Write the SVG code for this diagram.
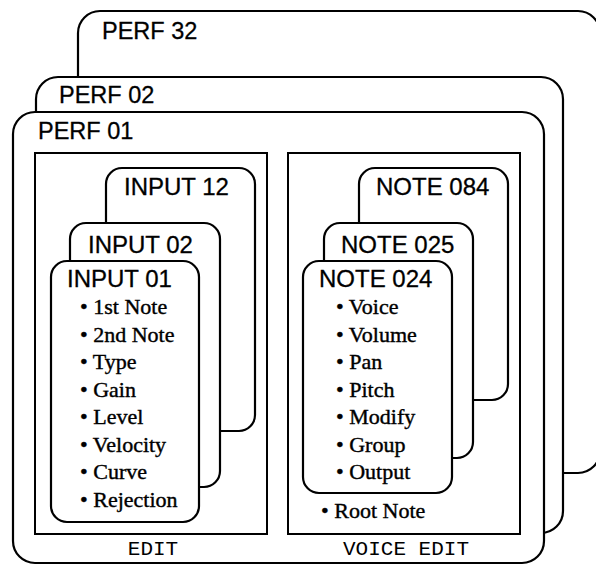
<svg xmlns="http://www.w3.org/2000/svg" width="596" height="566" viewBox="0 0 596 566">
<style>
.box{fill:#fff;stroke:#000;stroke-width:2.2}
.sq{fill:#fff;stroke:#000;stroke-width:2}
.h{font-family:"Liberation Sans",Arial,sans-serif;font-size:23.5px;fill:#000;stroke:#000;stroke-width:0.3}
.hi{font-family:"Liberation Sans",Arial,sans-serif;font-size:24px;fill:#000;stroke:#000;stroke-width:0.3}
.it{font-family:"Liberation Serif","Times New Roman",serif;font-size:22px;fill:#000;stroke:#000;stroke-width:0.4}
.m{font-family:"Liberation Mono","Courier New",monospace;font-size:21px;fill:#000;text-anchor:middle}
</style>
<rect width="596" height="566" fill="#fff"/>
<g id="perf32"><rect class="box" x="78" y="11" width="522" height="462" rx="22"/><text class="h" x="102" y="39">PERF 32</text></g>
<g id="perf02"><rect class="box" x="36" y="77" width="527" height="456" rx="22"/><text class="h" x="59" y="103">PERF 02</text></g>
<g id="perf01"><rect class="box" x="13" y="112" width="531" height="451" rx="22"/><text class="h" x="38" y="139">PERF 01</text></g>
<g id="edit"><rect class="sq" x="35" y="153" width="232" height="381"/><text class="m" x="153" y="555">EDIT</text></g>
<g id="voiceedit"><rect class="sq" x="288" y="153" width="232" height="381"/><text class="m" x="406" y="555">VOICE EDIT</text></g>
<g id="input12"><rect class="box" x="106" y="168" width="149" height="263" rx="16"/><text class="hi" x="124" y="195">INPUT 12</text></g>
<g id="input02"><rect class="box" x="70" y="223" width="150" height="264" rx="16"/><text class="hi" x="88" y="253">INPUT 02</text></g>
<g id="input01"><rect class="box" x="51" y="261" width="148" height="261" rx="16"/><text class="hi" x="67" y="287">INPUT 01</text>
<text class="it" x="80" y="314">• 1st Note</text>
<text class="it" x="80" y="341.5">• 2nd Note</text>
<text class="it" x="80" y="369">• Type</text>
<text class="it" x="80" y="396.5">• Gain</text>
<text class="it" x="80" y="424">• Level</text>
<text class="it" x="80" y="451.5">• Velocity</text>
<text class="it" x="80" y="479">• Curve</text>
<text class="it" x="80" y="506.5">• Rejection</text>
</g>
<g id="note084"><rect class="box" x="359" y="168" width="149" height="232" rx="16"/><text class="hi" x="376" y="195">NOTE 084</text></g>
<g id="note025"><rect class="box" x="324" y="223" width="149" height="235" rx="16"/><text class="hi" x="341" y="253">NOTE 025</text></g>
<g id="note024"><rect class="box" x="303" y="261" width="149" height="232" rx="16"/><text class="hi" x="319" y="287">NOTE 024</text>
<text class="it" x="336" y="314">• Voice</text>
<text class="it" x="336" y="341.5">• Volume</text>
<text class="it" x="336" y="369">• Pan</text>
<text class="it" x="336" y="396.5">• Pitch</text>
<text class="it" x="336" y="424">• Modify</text>
<text class="it" x="336" y="451.5">• Group</text>
<text class="it" x="336" y="479">• Output</text>
</g>
<g id="rootnote"><text class="it" x="321" y="518">• Root Note</text></g>
</svg>
